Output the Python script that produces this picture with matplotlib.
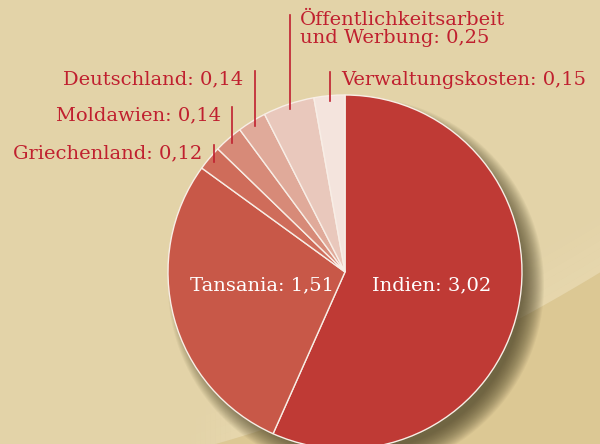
import numpy as np
import matplotlib.pyplot as plt
import matplotlib.patches as patches

# --- Daten ---
labels = ["Indien", "Tansania", "Griechenland", "Moldawien", "Deutschland",
          "Öffentlichkeitsarbeit\nund Werbung", "Verwaltungskosten"]
values = [3.02, 1.51, 0.12, 0.14, 0.14, 0.25, 0.15]
colors = ["#BF3A35", "#C85848", "#CF6C5A", "#D78A78", "#E0AA9A", "#E9C8BC", "#F4E4DD"]

W, H = 600, 444
CX, CY, R = 345, 272, 177   # Mittelpunkt und Radius in Pixeln
RED = "#C0202F"
FONT = "DejaVu Serif"
FS = 14

fig = plt.figure(figsize=(W / 100, H / 100), dpi=100)
fig.patch.set_facecolor("#E3D3A8")

# --- Hintergrund (Pixelkoordinaten) ---
bg = fig.add_axes([0, 0, 1, 1])
bg.set_xlim(0, W)
bg.set_ylim(H, 0)
bg.axis("off")
kx = [200, 283, 520, 620]
ky = [446, 427, 315, 262]
coef = np.polyfit(kx, ky, 2)
bx = np.linspace(190, 620, 80)
by = np.polyval(coef, bx)
# heller Streifen oberhalb der Kante, weich auslaufend
for k in range(8):
    band = np.concatenate([np.column_stack([bx, by - 8 * (k + 1)]),
                           np.column_stack([bx[::-1], by[::-1] - 8 * k])])
    fade = np.clip((bx - 190) / 120, 0, 1).mean()
    bg.add_patch(patches.Polygon(band, closed=True, facecolor="#EBDCB4", edgecolor="none",
                                 alpha=0.4 * (1 - k / 8)))
# linken Rand des hellen Streifens kaschieren
for j in range(10):
    bg.add_patch(patches.Rectangle((180 + 5 * j, 360), 6, 90, facecolor="#E3D3A8",
                                   edgecolor="none", alpha=0.9 * (1 - j / 10)))
dark = np.vstack([np.column_stack([bx, by]), [[620, 470], [190, 470]]])
bg.add_patch(patches.Polygon(dark, closed=True, facecolor="#DCC894", edgecolor="none"))

# Schatten (weich)
for k in range(22):
    rr = R + 11 - k
    bg.add_patch(patches.Circle((CX + 11, CY + 13), rr, facecolor="#4E4528",
                                edgecolor="none", alpha=0.055))

# --- Kreisdiagramm ---
ax = fig.add_axes([(CX - R) / W, (H - CY - R) / H, 2 * R / W, 2 * R / H])
wedges, _ = ax.pie(values, colors=colors, startangle=90, counterclock=False, radius=1,
                   wedgeprops=dict(edgecolor="#F8EEE6", linewidth=1.0))
ax.set_xlim(-1, 1)
ax.set_ylim(-1, 1)
ax.axis("off")
for w in wedges:
    w.set_clip_on(False)

def px(y):
    return (CY - y) / R

ax.text(0.49, px(285), "Indien: 3,02", color="white", fontsize=FS, family=FONT,
        ha="center", va="center")
ax.text(-0.47, px(285), "Tansania: 1,51", color="white", fontsize=FS, family=FONT,
        ha="center", va="center")

# Beschriftungen der kleinen Segmente mit senkrechten Linien
tops = [None, None, 145, 107, 71, 15, 72]
total = sum(values)
cum = 0.0
for i, v in enumerate(values):
    mid = (cum + v / 2) / total * 2 * np.pi
    cum += v
    if tops[i] is None:
        continue
    x = np.sin(mid) * 0.97
    y = np.cos(mid) * 0.97
    ax.plot([x, x], [y, px(tops[i])], color=RED, lw=1.2, clip_on=False)
    txt = f"{labels[i]}: {v:.2f}".replace(".", ",")
    if i == 5:
        ax.text(x + 10 / R, px(tops[i] - 4), txt, color=RED, fontsize=FS, family=FONT,
                ha="left", va="top", linespacing=1.0, clip_on=False)
    elif i == 6:
        ax.text(x + 11 / R, px(tops[i] + 8), txt, color=RED, fontsize=FS, family=FONT,
                ha="left", va="center", clip_on=False)
    else:
        ax.text(x - 11 / R, px(tops[i] + 8), txt, color=RED, fontsize=FS, family=FONT,
                ha="right", va="center", clip_on=False)

plt.savefig("out.png", dpi=100, facecolor=fig.get_facecolor())
